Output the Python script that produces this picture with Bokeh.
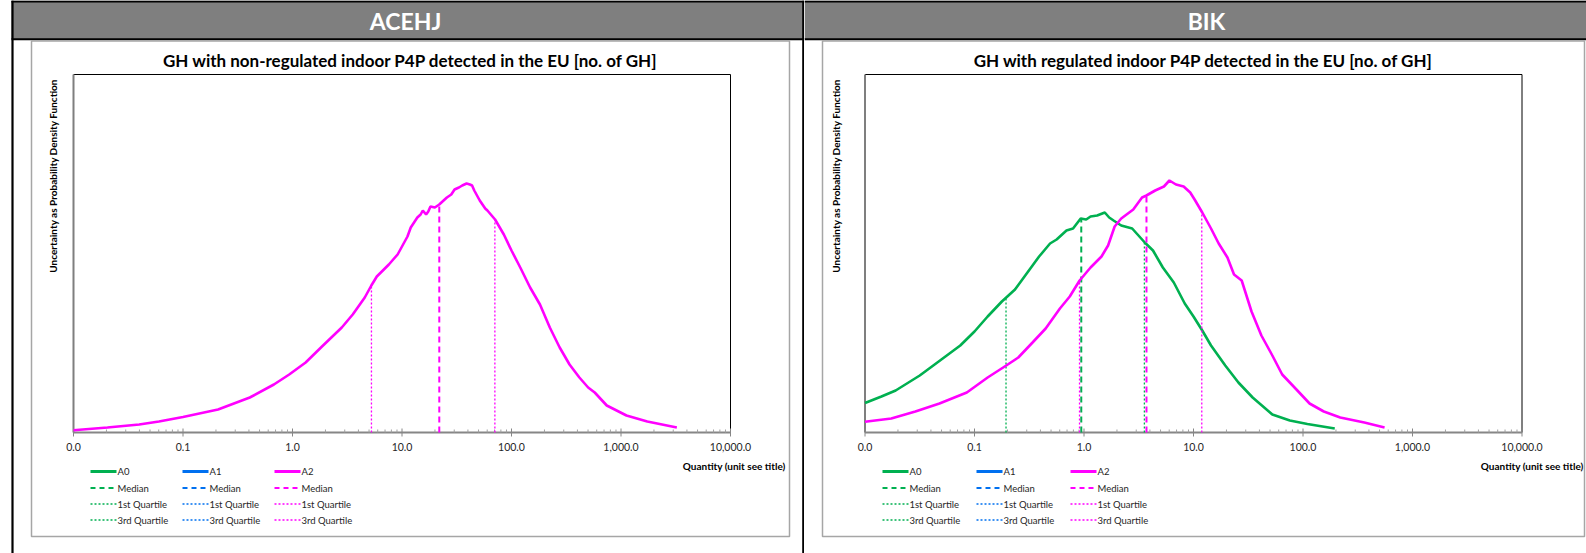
import numpy as np
from bokeh.plotting import figure
from bokeh.models import Range1d, LinearScale
from bokeh.layouts import row
from bokeh.embed import file_html
from bokeh.resources import INLINE
from bokeh.core.properties import value

# ---------------- data ----------------
tick_values = [0.01, 0.1, 1.0, 10.0, 100.0, 1000.0, 10000.0]
tick_labels = ["0.0", "0.1", "1.0", "10.0", "100.0", "1,000.0", "10,000.0"]
series_names = ["A0", "A1", "A2"]
series_colors = ["#00B050", "#0070F0", "#FF00FF"]
stat_names = ["Median", "1st Quartile", "3rd Quartile"]
y_label = "Uncertainty as  Probability Density Function"
x_label = "Quantity (unit see title)"

left_header = "ACEHJ"
left_title = "GH with non-regulated indoor P4P detected in the EU [no. of GH]"
left_a2_log10q = [-2.00, -1.69, -1.40, -1.22, -1.00, -0.68, -0.39, -0.17, -0.03, 0.12,
                  0.26, 0.45, 0.55, 0.66, 0.72, 0.77, 0.88, 0.96, 1.01, 1.05,
                  1.08, 1.14, 1.17, 1.19, 1.22, 1.24, 1.26, 1.30, 1.34, 1.38,
                  1.41, 1.45, 1.48, 1.52, 1.55, 1.59, 1.62, 1.64, 1.66, 1.71,
                  1.76, 1.78, 1.85, 1.93, 2.00, 2.08, 2.17, 2.26, 2.35, 2.44,
                  2.53, 2.62, 2.70, 2.76, 2.87, 3.05, 3.24, 3.51]
left_a2_pdf = [2.3, 5, 8, 11, 15.5, 23, 35, 48, 58, 70,
               85, 105, 118, 135, 147, 156, 168, 178, 188, 196,
               205, 215, 218, 222, 218, 221, 226, 225, 228, 232,
               235, 238, 243, 245, 247, 249, 248, 247, 242, 232,
               224, 222, 213, 198, 182, 165, 145, 128, 105, 85,
               68, 55, 45, 40, 27, 17, 11, 5]
left_a2_q1, left_a2_median, left_a2_q3 = 5.26, 21.9, 70.5

right_header = "BIK"
right_title = "GH with regulated indoor P4P detected in the EU [no. of GH]"
right_a0_log10q = [-2.00, -1.85, -1.72, -1.50, -1.29, -1.13, -1.00, -0.88, -0.75, -0.71,
                   -0.63, -0.53, -0.41, -0.31, -0.25, -0.16, -0.10, -0.03, 0.02, 0.06,
                   0.12, 0.19, 0.23, 0.27, 0.34, 0.44, 0.555, 0.63, 0.72, 0.82,
                   0.92, 1.00, 1.08, 1.16, 1.29, 1.41, 1.54, 1.72, 1.88, 2.04, 2.29]
right_a0_pdf = [29.5, 36, 42, 57, 74, 87, 101, 116, 131, 135,
                143, 158, 176, 189, 193, 202, 204, 214, 213, 216,
                217, 220, 215, 212, 207, 204, 190, 182, 165, 150,
                129, 116, 102, 87, 67, 50, 35, 18, 12, 8.5, 4]
right_a0_q1, right_a0_median, right_a0_q3 = 0.194, 0.944, 3.56
right_a2_log10q = [-2.00, -1.76, -1.54, -1.32, -1.07, -0.88, -0.71, -0.60, -0.47, -0.35,
                   -0.22, -0.13, -0.04, 0.06, 0.16, 0.22, 0.28, 0.34, 0.45, 0.53,
                   0.57, 0.65, 0.73, 0.78, 0.84, 0.91, 0.97, 1.01, 1.08, 1.16,
                   1.23, 1.31, 1.37, 1.44, 1.53, 1.62, 1.72, 1.81, 1.94, 2.06,
                   2.19, 2.34, 2.56, 2.745]
right_a2_pdf = [10.8, 14, 21, 29, 40, 55, 67, 75, 90, 104,
                124, 136, 152, 165, 176, 187, 206, 214, 223, 235,
                237, 242, 246, 252, 248, 246, 240, 233, 220, 204,
                189, 175, 158, 152, 121, 97, 77, 58, 43, 29,
                21, 15, 10, 5]
right_a2_q1, right_a2_median, right_a2_q3 = 0.91, 3.72, 11.9

# ---------------- layout ----------------
H = 553
AXIS_Y = 432
TOP_Y = 74
PLOT_H = AXIS_Y - TOP_Y
FONT = value("Lato")
TXT = "#262626"
DOT = "2 2"


def make_panel(W, fl, fr, lay, header, title, curves):
    ppd = (fr - fl) / 6.0
    lo = np.log10(tick_values[0]) - fl / ppd
    hi = np.log10(tick_values[-1]) + (W - fr) / ppd
    p = figure(width=W, height=H, x_axis_type="log",
               x_range=Range1d(10 ** lo, 10 ** hi),
               y_range=Range1d(-(H - AXIS_Y), AXIS_Y),
               x_axis_location=None, y_axis_location=None,
               toolbar_location=None, output_backend="svg", title=None,
               min_border=0)
    p.outline_line_color = None
    p.background_fill_color = "white"
    p.border_fill_color = "white"
    p.grid.grid_line_color = None
    p.extra_x_ranges = {"px": Range1d(0, W)}
    p.extra_y_ranges = {"py": Range1d(H, 0)}
    p.extra_x_scales = {"px": LinearScale()}
    p.extra_y_scales = {"py": LinearScale()}
    pp = dict(x_range_name="px", y_range_name="py")

    # header band
    p.quad(left=[lay["hdr_l"]], right=[W], top=[0], bottom=[38.5],
           fill_color="#7F7F7F", line_color=None, **pp)
    p.segment(x0=[lay["hdr_l"]], y0=[1], x1=[W], y1=[1], line_color="black", line_width=2, **pp)
    p.segment(x0=[lay["hdr_l"]], y0=[38.8], x1=[W], y1=[38.8], line_color="black", line_width=2, **pp)
    for vx in lay["vlines"]:
        p.segment(x0=[vx], y0=[0], x1=[vx], y1=[H], line_color="black", line_width=2.2, **pp)
    p.text(x=[lay["hdr_cx"]], y=[20], text=[header], text_font=FONT, text_font_size="23px",
           text_font_style="bold", text_color="white", text_align="center",
           text_baseline="middle", **pp)

    # chart area box
    p.quad(left=[lay["box_l"]], right=[lay["box_r"]], top=[40.5], bottom=[536],
           fill_color=None, line_color="#A6A6A6", line_width=1.5, **pp)
    p.text(x=[lay["title_cx"]], y=[60], text=[title], text_font=FONT, text_font_size="17px",
           text_font_style="bold", text_color="black", text_align="center",
           text_baseline="middle", **pp)
    p.text(x=[lay["ylab_x"]], y=[174], text=[y_label], text_font=FONT, text_font_size="10px",
           text_font_style="bold", text_color="black", text_align="center",
           text_baseline="middle", angle=np.pi / 2, **pp)
    p.text(x=[lay["xlab_r"]], y=[465], text=[x_label], text_font=FONT, text_font_size="10px",
           text_font_style="bold", text_color="black", text_align="right",
           text_baseline="middle", **pp)

    # plot frame (through data scales)
    x0, x1 = tick_values[0], tick_values[-1]
    p.segment(x0=[x0], y0=[PLOT_H], x1=[x1], y1=[PLOT_H], line_color="black", line_width=1)
    p.segment(x0=[x1], y0=[0], x1=[x1], y1=[PLOT_H], line_color="black", line_width=1)
    p.segment(x0=[x0], y0=[0], x1=[x0], y1=[PLOT_H], line_color="#7F7F7F", line_width=2)
    p.segment(x0=[x0], y0=[0], x1=[x1], y1=[0], line_color="#868686", line_width=2)

    # ticks and labels
    minor = [m * 10.0 ** e for e in range(-2, 4) for m in range(2, 10)]
    p.segment(x0=tick_values, y0=[-4] * 7, x1=tick_values, y1=[4] * 7,
              line_color="#868686", line_width=1)
    p.segment(x0=minor, y0=[0] * len(minor), x1=minor, y1=[3] * len(minor),
              line_color="#A0A0A0", line_width=1)
    p.text(x=tick_values, y=[-14] * 7, text=tick_labels, text_font=FONT,
           text_font_size="10.5px", text_color=TXT, text_align="center",
           text_baseline="middle")

    # curves
    for (logq, pdf, q1, med, q3, color) in curves:
        q = 10 ** np.asarray(logq)
        p.line(x=q, y=pdf, line_color=color, line_width=2.6)
        for qq, dash, w in ((q1, DOT, 1.3), (q3, DOT, 1.3), (med, "6 4", 2)):
            hq = float(np.interp(np.log10(qq), logq, pdf))
            p.segment(x0=[qq], y0=[0], x1=[qq], y1=[hq], line_color=color,
                      line_dash=dash, line_width=w)

    # legend
    rows_y = [471, 487.5, 503.5, 519.5]
    styles = [("solid", 3), ("5 4", 2), (DOT, 1.3), (DOT, 1.3)]
    labels_rows = [series_names, [stat_names[0]] * 3, [stat_names[1]] * 3, [stat_names[2]] * 3]
    for ci, cx in enumerate(lay["leg_x"]):
        for ri, ry in enumerate(rows_y):
            dash, w = styles[ri]
            p.segment(x0=[cx], y0=[ry], x1=[cx + 26], y1=[ry], line_color=series_colors[ci],
                      line_width=w, line_dash=dash, **pp)
            p.text(x=[cx + 27], y=[ry], text=[labels_rows[ri][ci]], text_font=FONT,
                   text_font_size="9.5px", text_color=TXT, text_align="left",
                   text_baseline="middle", **pp)
    return p


left_lay = dict(hdr_l=11, vlines=[12, 802.8], hdr_cx=405, box_l=31, box_r=789,
                title_cx=410, ylab_x=52.5, xlab_r=785, leg_x=[90, 182, 274])
right_lay = dict(hdr_l=0, vlines=[], hdr_cx=402, box_l=18, box_r=780,
                 title_cx=399, ylab_x=31, xlab_r=779, leg_x=[78, 172, 266])

p1 = make_panel(804, 73, 730, left_lay, left_header, left_title,
                [(left_a2_log10q, left_a2_pdf, left_a2_q1, left_a2_median, left_a2_q3, series_colors[2])])
p2 = make_panel(782, 60.5, 717.5, right_lay, right_header, right_title,
                [(right_a0_log10q, right_a0_pdf, right_a0_q1, right_a0_median, right_a0_q3, series_colors[0]),
                 (right_a2_log10q, right_a2_pdf, right_a2_q1, right_a2_median, right_a2_q3, series_colors[2])])

layout = row(p1, p2)

open("out.html", "w").write(file_html(layout, INLINE))
